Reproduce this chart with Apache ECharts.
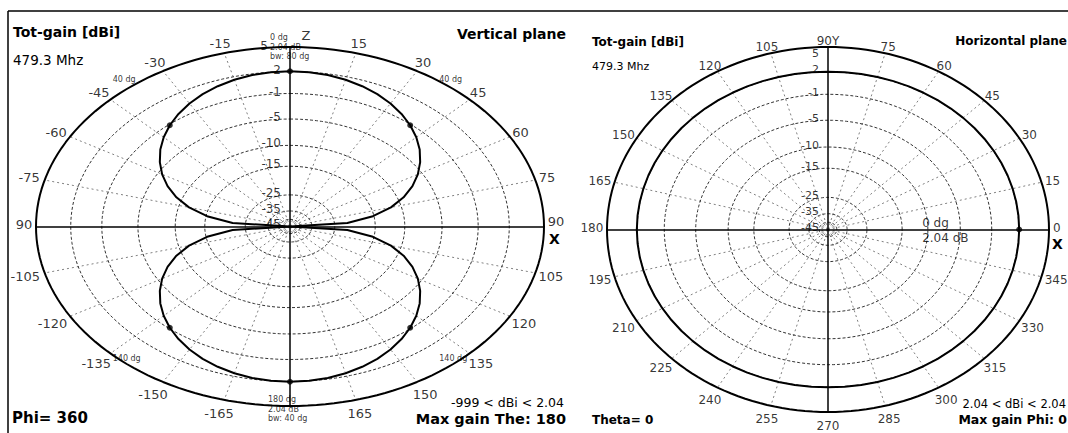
<!DOCTYPE html>
<html><head><meta charset="utf-8">
<script src="https://cdn.jsdelivr.net/npm/echarts@6/dist/echarts.min.js"></script>
<style>html,body{margin:0;padding:0;background:#fff}#c{width:1068px;height:433px}</style>
</head><body><div id="c"></div>
<script>
// ---------------- data ----------------
const ringGains  = [5, 2, -1, -5, -10, -15, -25, -35, -45];
const ringLabels = ['5', '2', '-1', '-5', '-10', '-15', '-25', '-35', '-45'];

const gridAngles = [0,15,30,45,60,75,90,105,120,135,150,165,180,195,210,225,240,255,270,285,300,315,330,345];
const vertAngleLabels = ['Z','15','30','45','60','75','90','105','120','135','150','165','','-165','-150','-135','-120','-105','90','-75','-60','-45','-30','-15'];
const horzAngleLabels = ['0','15','30','45','60','75','90Y','105','120','135','150','165','180','195','210','225','240','255','270','285','300','315','330','345'];

const patternAngles = [0,5,10,15,20,25,30,35,40,45,50,55,60,65,70,75,80,85,90,95,100,105,110,115,120,125,130,135,140,145,150,155,160,165,170,175,180,185,190,195,200,205,210,215,220,225,230,235,240,245,250,255,260,265,270,275,280,285,290,295,300,305,310,315,320,325,330,335,340,345,350,355,360];
// Vertical plane total gain (dBi) vs theta
const vertGain = [2.04,1.99,1.85,1.60,1.26,0.82,0.28,-0.37,-1.12,-2.00,-3.01,-4.19,-5.54,-7.14,-9.10,-11.6,-15.2,-21.2,-999,
  -21.2,-15.2,-11.6,-9.10,-7.14,-5.54,-4.19,-3.01,-2.00,-1.12,-0.37,0.28,0.82,1.26,1.60,1.85,1.99,2.04,
  1.99,1.85,1.60,1.26,0.82,0.28,-0.37,-1.12,-2.00,-3.01,-4.19,-5.54,-7.14,-9.10,-11.6,-15.2,-21.2,-999,
  -21.2,-15.2,-11.6,-9.10,-7.14,-5.54,-4.19,-3.01,-2.00,-1.12,-0.37,0.28,0.82,1.26,1.60,1.85,1.99,2.04];
// Horizontal plane total gain (dBi) vs phi
const horzGain = [2.04,2.04,2.04,2.04,2.04,2.04,2.04,2.04,2.04,2.04,2.04,2.04,2.04,2.04,2.04,2.04,2.04,2.04,2.04,
  2.04,2.04,2.04,2.04,2.04,2.04,2.04,2.04,2.04,2.04,2.04,2.04,2.04,2.04,2.04,2.04,2.04,2.04,
  2.04,2.04,2.04,2.04,2.04,2.04,2.04,2.04,2.04,2.04,2.04,2.04,2.04,2.04,2.04,2.04,2.04,2.04,
  2.04,2.04,2.04,2.04,2.04,2.04,2.04,2.04,2.04,2.04,2.04,2.04,2.04,2.04,2.04,2.04,2.04,2.04];

const vertMarkAngles = [0, 40, 140, 180, 220, 320];
const horzMarkAngles = [0];
const bwAngles = [40, 140, 220, 320];
const bwLabels = ['40 dg', '140 dg', '140 dg', '40 dg'];

// ---------------- scales ----------------
// EZNEC-style compressed log radial scale (outer ring = 5 dBi)
function R(g) { const d = 5 - g; return Math.exp(-0.048 * d - 0.00033 * d * d); }
const rad = a => a * Math.PI / 180;
const vXY = (a, r) => [r * Math.sin(rad(a)), r * Math.cos(rad(a))];   // theta clockwise from Z (top)
const hXY = (a, r) => [r * Math.cos(rad(a)), r * Math.sin(rad(a))];   // phi counter-clockwise from X (right)
const vDir = a => [Math.sin(rad(a)), -Math.cos(rad(a))];
const hDir = a => [Math.cos(rad(a)), -Math.sin(rad(a))];

const FONT = 'DejaVu Sans';

function buildPlot(gi, toXY, dir, gains, angleLabels, markAngles, angFs, ringFs, padTop, padBot, xLift) {
  const s = [];
  const ax = { xAxisIndex: gi, yAxisIndex: gi };
  // spokes
  const spokes = [];
  gridAngles.forEach(a => { if (a % 90 !== 0) spokes.push({ coords: [[0, 0], toXY(a, 1)] }); });
  s.push(Object.assign({ type: 'lines', coordinateSystem: 'cartesian2d', silent: true, z: 1,
    lineStyle: { color: '#808080', width: 1, type: [2, 3], opacity: 1 }, data: spokes }, ax));
  // rings
  ringGains.forEach((g, i) => {
    const pts = [];
    for (let a = 0; a <= 360; a += 2) pts.push(toXY(a, R(g)));
    s.push(Object.assign({ type: 'line', symbol: 'none', silent: true, z: i === 0 ? 3 : 2, data: pts,
      lineStyle: i === 0 ? { color: '#000', width: 2 } : { color: '#333', width: 1, type: [3, 2] } }, ax));
  });
  // main axes
  s.push(Object.assign({ type: 'lines', coordinateSystem: 'cartesian2d', silent: true, z: 4,
    lineStyle: { color: '#000', width: 1.5, opacity: 1 },
    data: [{ coords: [toXY(0, 1), toXY(180, 1)] }, { coords: [toXY(90, 1), toXY(270, 1)] }] }, ax));
  // pattern
  s.push(Object.assign({ type: 'line', symbol: 'none', silent: true, z: 6,
    lineStyle: { color: '#000', width: 2 },
    data: patternAngles.map((a, i) => toXY(a, R(gains[i]))) }, ax));
  // markers
  s.push(Object.assign({ type: 'scatter', symbol: 'circle', symbolSize: 6, z: 7, silent: true,
    itemStyle: { color: '#000' },
    data: markAngles.map(a => toXY(a, R(gains[patternAngles.indexOf(a)]))) }, ax));
  // angle labels
  s.push(Object.assign({ type: 'scatter', symbolSize: 1, z: 8, silent: true, clip: false,
    itemStyle: { color: 'transparent' },
    data: gridAngles.map((a, i) => {
      const t = angleLabels[i]; const d = dir(a);
      const w = t.length * angFs * 0.62, h = angFs;
      let off = [d[0] * (w / 2 + 4), d[1] * (h / 2 + (d[1] > 0 ? padBot : padTop))];
      if (t === 'Z') off = [16, -12];
      if (Math.abs(d[1]) < 1e-9 && d[0] > 0) off[1] = -xLift;   // label above the "X" axis letter
      if (Math.abs(d[1]) < 1e-9 && d[0] < 0) off[1] = -2;
      return { value: toXY(a, 1), label: { show: t !== '', formatter: t, position: 'inside', offset: off } };
    }),
    label: { fontFamily: FONT, fontSize: angFs, color: '#000' } }, ax));
  // ring labels (along the upper vertical axis)
  s.push(Object.assign({ type: 'scatter', symbolSize: 1, z: 8, silent: true, clip: false,
    itemStyle: { color: 'transparent' },
    data: ringGains.map((g, i) => {
      let off = [-9, -2];
      if (i === 0) off = gi === 0 ? [-22, -1] : [-9, 6];
      if (i === ringGains.length - 1) off = [-9, 5];
      return { value: toXY(gi === 0 ? 0 : 90, R(g)), label: { show: true, formatter: ringLabels[i], offset: off } };
    }),
    label: { position: 'inside', align: 'right', fontFamily: FONT, fontSize: ringFs, color: '#000' } }, ax));
  return s;
}

const series = [].concat(
  buildPlot(0, vXY, vDir, vertGain, vertAngleLabels, vertMarkAngles, 13, 12, 3, 8, 5),
  buildPlot(1, hXY, hDir, horzGain, horzAngleLabels, horzMarkAngles, 12, 11, 0, 8, 2)
);

// annotations tied to the plots
series.push({ type: 'scatter', xAxisIndex: 0, yAxisIndex: 0, symbolSize: 1, silent: true, clip: false, z: 9,
  itemStyle: { color: 'transparent' },
  label: { show: true, position: 'inside', align: 'left', fontFamily: FONT, fontSize: 8, lineHeight: 9.5, color: '#000' },
  data: [
    { value: vXY(0, 1), label: { formatter: '0 dg\n2.04 dB\nbw: 80 dg', offset: [-20, 0] } },
    { value: vXY(180, 1), label: { formatter: '180 dg\n2.04 dB\nbw: 40 dg', offset: [-22, 3] } }
  ].concat(bwAngles.map((a, i) => ({ value: vXY(a, 1),
    label: { formatter: bwLabels[i], offset: [-14, a < 90 || a > 270 ? -9 : -6] } })))
});
series.push({ type: 'scatter', xAxisIndex: 1, yAxisIndex: 1, symbolSize: 1, silent: true, clip: false, z: 9,
  itemStyle: { color: 'transparent' },
  label: { show: true, position: 'inside', align: 'left', fontFamily: FONT, fontSize: 12, lineHeight: 15, color: '#000' },
  data: [{ value: hXY(0, R(horzGain[0])), label: { formatter: '0 dg\n2.04 dB', offset: [-97, 1] } }]
});

const txt = (o, text, font) => Object.assign({ type: 'text', silent: true,
  style: { text: text, font: font, fill: '#000' } }, o);

const option = {
  animation: false,
  backgroundColor: '#fff',
  grid: [
    { left: 36, top: 47, width: 508, height: 359 },
    { left: 607, top: 47, width: 442, height: 365 }
  ],
  xAxis: [
    { gridIndex: 0, type: 'value', min: -1, max: 1, show: false },
    { gridIndex: 1, type: 'value', min: -1, max: 1, show: false }
  ],
  yAxis: [
    { gridIndex: 0, type: 'value', min: -1, max: 1, show: false },
    { gridIndex: 1, type: 'value', min: -1, max: 1, show: false }
  ],
  series: series,
  graphic: [
    { type: 'line', silent: true, shape: { x1: 8, y1: 11, x2: 1068, y2: 11 }, style: { stroke: '#000', lineWidth: 1.5 } },
    { type: 'line', silent: true, shape: { x1: 8, y1: 11, x2: 8, y2: 433 }, style: { stroke: '#000', lineWidth: 1.5 } },
    txt({ left: 13, top: 25 }, 'Tot-gain [dBi]', 'bold 14px DejaVu Sans'),
    txt({ left: 13, top: 53 }, '479.3 Mhz', '13.5px DejaVu Sans'),
    txt({ right: 502, top: 27 }, 'Vertical plane', 'bold 14px DejaVu Sans'),
    txt({ left: 12, top: 410 }, 'Phi= 360', 'bold 15px DejaVu Sans'),
    txt({ right: 504, top: 396 }, '-999 < dBi < 2.04', '12.5px DejaVu Sans'),
    txt({ right: 502, top: 411 }, 'Max gain The: 180', 'bold 14.5px DejaVu Sans'),
    txt({ left: 549, top: 232 }, 'X', 'bold 14px DejaVu Sans'),
    txt({ left: 592, top: 36 }, 'Tot-gain [dBi]', 'bold 12px DejaVu Sans'),
    txt({ left: 592, top: 61 }, '479.3 Mhz', '11px DejaVu Sans'),
    txt({ right: 1, top: 35 }, 'Horizontal plane', 'bold 12px DejaVu Sans'),
    txt({ left: 592, top: 414 }, 'Theta= 0', 'bold 12px DejaVu Sans'),
    txt({ right: 2, top: 398 }, '2.04 < dBi < 2.04', '11.5px DejaVu Sans'),
    txt({ right: 1, top: 413 }, 'Max gain Phi: 0', 'bold 12.5px DejaVu Sans'),
    txt({ left: 1052, top: 237 }, 'X', 'bold 14px DejaVu Sans')
  ]
};

const chart = echarts.init(document.getElementById('c'), null, { renderer: 'svg' });
chart.setOption(option);
</script>
</body></html>
